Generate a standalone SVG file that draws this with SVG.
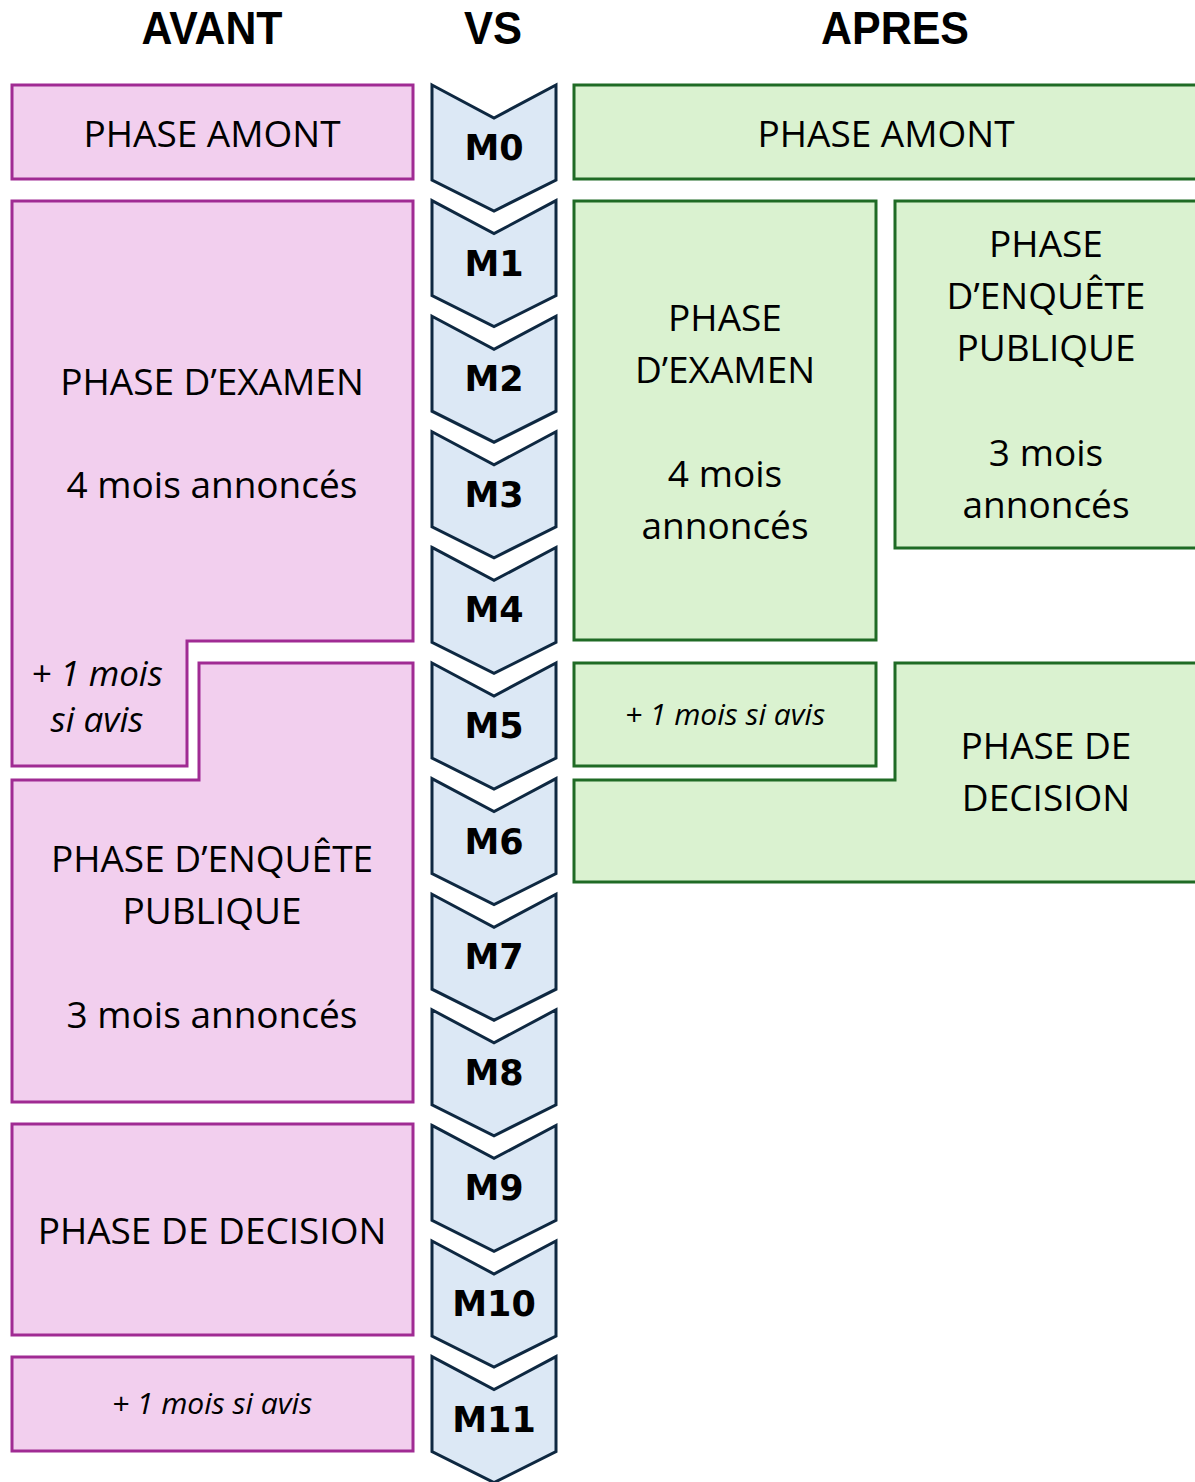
<svg xmlns="http://www.w3.org/2000/svg" width="1195" height="1482" viewBox="0 0 1195 1482">
<style>
.pk{fill:#F2CFEE;stroke:#A02B93;stroke-width:3}
.gr{fill:#DAF2D0;stroke:#1F6B25;stroke-width:3}
.ch{fill:#DCE8F5;stroke:#0E2841;stroke-width:3;stroke-linejoin:miter}
.t{font-family:"Open Sans","Noto Sans",sans-serif;font-size:37px;fill:#000;text-anchor:middle}
.i{font-family:"Open Sans","Noto Sans",sans-serif;font-style:italic;fill:#000;text-anchor:middle}
.m{font-family:"DejaVu Sans","Verdana",sans-serif;font-weight:bold;font-size:35px;fill:#000;text-anchor:middle}
.h{font-family:"Liberation Sans","Arial",sans-serif;font-weight:bold;font-size:46px;fill:#000;text-anchor:middle}
</style>
<rect width="1195" height="1482" fill="#fff"/>
<g id="headers">
<text class="h" x="212" y="44" textLength="141" lengthAdjust="spacingAndGlyphs">AVANT</text>
<text class="h" x="493" y="44" textLength="58" lengthAdjust="spacingAndGlyphs">VS</text>
<text class="h" x="895" y="44" textLength="148" lengthAdjust="spacingAndGlyphs">APRES</text>
</g>
<g id="timeline">
<g id="m0"><polygon class="ch" points="432,85 494,118 556,85 556,180 494,211 432,180"/><text class="m" x="494" y="160">M0</text></g>
<g id="m1"><polygon class="ch" points="432,200.6 494,233.6 556,200.6 556,295.6 494,326.6 432,295.6"/><text class="m" x="494" y="275.6">M1</text></g>
<g id="m2"><polygon class="ch" points="432,316.2 494,349.2 556,316.2 556,411.2 494,442.2 432,411.2"/><text class="m" x="494" y="391.2">M2</text></g>
<g id="m3"><polygon class="ch" points="432,431.8 494,464.8 556,431.8 556,526.8 494,557.8 432,526.8"/><text class="m" x="494" y="506.8">M3</text></g>
<g id="m4"><polygon class="ch" points="432,547.4 494,580.4 556,547.4 556,642.4 494,673.4 432,642.4"/><text class="m" x="494" y="622.4">M4</text></g>
<g id="m5"><polygon class="ch" points="432,663 494,696 556,663 556,758 494,789 432,758"/><text class="m" x="494" y="738">M5</text></g>
<g id="m6"><polygon class="ch" points="432,778.6 494,811.6 556,778.6 556,873.6 494,904.6 432,873.6"/><text class="m" x="494" y="853.6">M6</text></g>
<g id="m7"><polygon class="ch" points="432,894.2 494,927.2 556,894.2 556,989.2 494,1020.2 432,989.2"/><text class="m" x="494" y="969.2">M7</text></g>
<g id="m8"><polygon class="ch" points="432,1009.8 494,1042.8 556,1009.8 556,1104.8 494,1135.8 432,1104.8"/><text class="m" x="494" y="1084.8">M8</text></g>
<g id="m9"><polygon class="ch" points="432,1125.4 494,1158.4 556,1125.4 556,1220.4 494,1251.4 432,1220.4"/><text class="m" x="494" y="1200.4">M9</text></g>
<g id="m10"><polygon class="ch" points="432,1241 494,1274 556,1241 556,1336 494,1367 432,1336"/><text class="m" x="494" y="1316">M10</text></g>
<g id="m11"><polygon class="ch" points="432,1356.6 494,1389.6 556,1356.6 556,1451.6 494,1482.6 432,1451.6"/><text class="m" x="494" y="1431.6">M11</text></g>
</g>
<g id="avant">
<g id="a-amont"><rect class="pk" x="12" y="85" width="401" height="94"/><text class="t" x="212" y="147">PHASE AMONT</text></g>
<g id="a-examen"><polygon class="pk" points="12,201 413,201 413,641 187,641 187,766 12,766"/>
<text class="t" x="212" y="395">PHASE D’EXAMEN</text>
<text class="t" x="212" y="498">4 mois annoncés</text>
<text class="i" font-size="35" x="97" y="686">+ 1 mois</text>
<text class="i" font-size="35" x="97" y="732">si avis</text></g>
<g id="a-enquete"><polygon class="pk" points="199,663 413,663 413,1102 12,1102 12,780 199,780"/>
<text class="t" x="212" y="872">PHASE D’ENQUÊTE</text>
<text class="t" x="212" y="924">PUBLIQUE</text>
<text class="t" x="212" y="1028">3 mois annoncés</text></g>
<g id="a-decision"><rect class="pk" x="12" y="1124" width="401" height="211"/><text class="t" x="212" y="1244">PHASE DE DECISION</text></g>
<g id="a-avis"><rect class="pk" x="12" y="1357" width="401" height="94"/><text class="i" font-size="30" x="212" y="1414">+ 1 mois si avis</text></g>
</g>
<g id="apres">
<g id="b-amont"><rect class="gr" x="574" y="85" width="630" height="94"/><text class="t" x="886" y="147">PHASE AMONT</text></g>
<g id="b-examen"><rect class="gr" x="574" y="201" width="302" height="439"/>
<text class="t" x="725" y="331">PHASE</text>
<text class="t" x="725" y="383">D’EXAMEN</text>
<text class="t" x="725" y="487">4 mois</text>
<text class="t" x="725" y="539">annoncés</text></g>
<g id="b-enquete"><rect class="gr" x="895" y="201" width="309" height="347"/>
<text class="t" x="1046" y="257">PHASE</text>
<text class="t" x="1046" y="309">D’ENQUÊTE</text>
<text class="t" x="1046" y="361">PUBLIQUE</text>
<text class="t" x="1046" y="466">3 mois</text>
<text class="t" x="1046" y="518">annoncés</text></g>
<g id="b-avis"><rect class="gr" x="574" y="663" width="302" height="103"/><text class="i" font-size="30" x="725" y="725">+ 1 mois si avis</text></g>
<g id="b-decision"><polygon class="gr" points="895,663 1204,663 1204,882 574,882 574,780 895,780"/>
<text class="t" x="1046" y="759">PHASE DE</text>
<text class="t" x="1046" y="811">DECISION</text></g>
</g>
<g id="connectors"></g>
</svg>
